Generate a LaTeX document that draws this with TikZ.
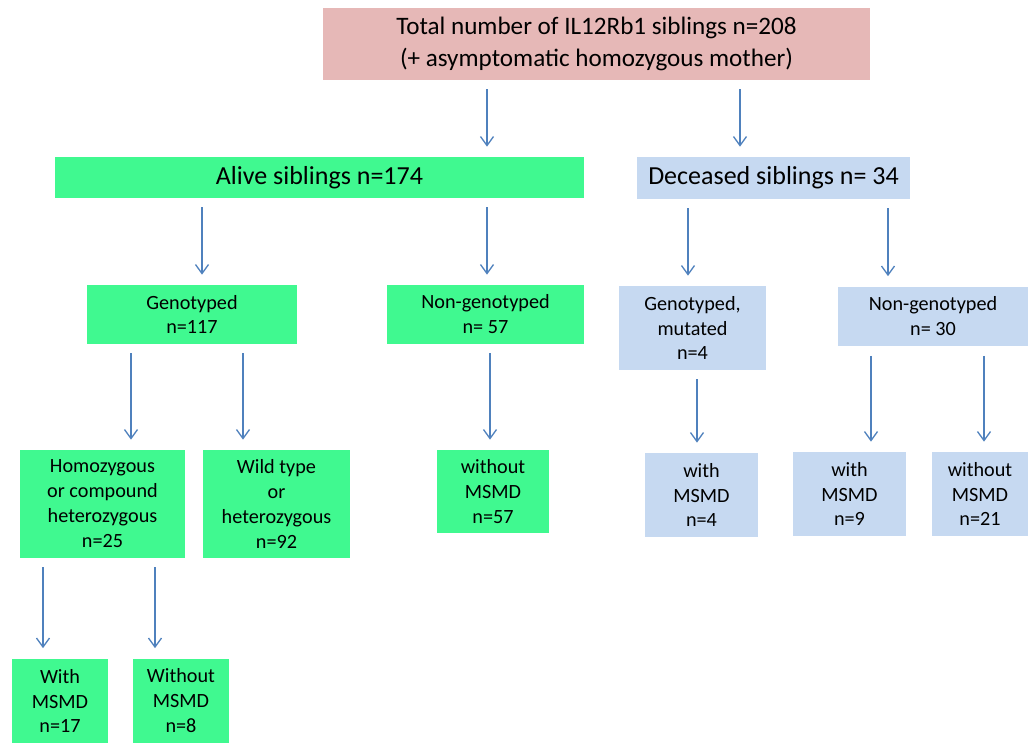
\documentclass[tikz,border=0pt]{standalone}
\usepackage{fontspec}
\setmainfont{Carlito}
\usepackage{xcolor}
\usepackage{tikz}
\usetikzlibrary{positioning,calc,arrows.meta}

\definecolor{boxgreen}{RGB}{64,249,144}
\definecolor{boxpink}{RGB}{230,184,183}
\definecolor{boxblue}{RGB}{198,217,241}
\definecolor{arrowblue}{RGB}{79,129,189}

\begin{document}
\begin{tikzpicture}[
        x=0.02cm, y=-0.02cm,
        % Style for the top box
        totalbox/.style={
            fill=boxpink,
            inner sep=0pt,
            align=center,
            font=\fontsize{14.3}{18.6}\selectfont
        },
        % Style for the big boxes
        bigbox/.style={
            inner sep=0pt,
            align=center,
            font=\fontsize{14.8}{18}\selectfont
        },
        % Style for the small boxes
        smallbox/.style={
            inner sep=0pt,
            align=center,
            font=\fontsize{11.5}{14.2}\selectfont
        },
        alivebox/.style={fill=boxgreen},
        deadbox/.style={fill=boxblue},
        % Style for the arrows
        arr/.style={
            draw=arrowblue,
            line width=0.75pt,
            shorten <=0.18cm,
            shorten >=0.2cm,
            -{Straight Barb[length=1.8mm,width=2.6mm]}
        }
    ]

        \useasboundingbox (0,0) rectangle (1028,743);

        % --- NODES ---
        % Top
        \node[totalbox, minimum width=10.94cm, minimum height=1.44cm] (total) at (596.5,44)
            {Total number of IL12Rb1 siblings n=208\\(+ asymptomatic homozygous mother)};

        % Alive / deceased
        \node[bigbox, alivebox, minimum width=10.58cm, minimum height=0.82cm] (alive) at (319.5,177.5)
            {Alive siblings n=174};
        \node[bigbox, deadbox, minimum width=5.46cm, minimum height=0.84cm] (dead) at (773.5,178)
            {Deceased siblings n= 34};

        % Second level
        \node[smallbox, alivebox, minimum width=4.2cm, minimum height=1.18cm] (gen) at (192,314.5)
            {Genotyped\\n=117};
        \node[smallbox, alivebox, minimum width=3.94cm, minimum height=1.18cm] (nongen) at (485.5,314.5)
            {Non-genotyped\\n= 57};
        \node[smallbox, deadbox, minimum width=2.96cm, minimum height=1.68cm] (genmut) at (692.5,328)
            {Genotyped,\\mutated\\n=4};
        \node[smallbox, deadbox, minimum width=3.8cm, minimum height=1.2cm] (deadnongen) at (933,316.5)
            {Non-genotyped\\n= 30};

        % Third level
        \node[smallbox, alivebox, minimum width=3.3cm, minimum height=2.16cm] (homo) at (102.5,504)
            {Homozygous\\or compound\\heterozygous\\n=25};
        \node[smallbox, alivebox, minimum width=2.94cm, minimum height=2.16cm] (wild) at (276.5,504)
            {Wild type\\or\\heterozygous\\n=92};
        \node[smallbox, alivebox, minimum width=2.24cm, minimum height=1.66cm] (nomsmd) at (493,491.5)
            {without\\MSMD\\n=57};
        \node[smallbox, deadbox, minimum width=2.26cm, minimum height=1.68cm] (mutmsmd) at (701.5,495)
            {with\\MSMD\\n=4};
        \node[smallbox, deadbox, minimum width=2.26cm, minimum height=1.68cm] (deadmsmd) at (849.5,494)
            {with\\MSMD\\n=9};
        \node[smallbox, deadbox, minimum width=1.94cm, minimum height=1.68cm] (deadnomsmd) at (980,494)
            {without\\MSMD\\n=21};

        % Bottom
        \node[smallbox, alivebox, minimum width=1.92cm, minimum height=1.7cm] (homomsmd) at (60,701)
            {With\\MSMD\\n=17};
        \node[smallbox, alivebox, minimum width=1.92cm, minimum height=1.7cm] (homonomsmd) at (181,701)
            {Without\\MSMD\\n=8};

        % --- ARROWS ---
        \draw[arr] (total.south -| 487,0) -- (alive.north -| 487,0);
        \draw[arr] (total.south -| 740,0) -- (dead.north -| 740,0);

        \draw[arr] (alive.south -| 202,0) -- (gen.north -| 202,0);
        \draw[arr] (alive.south -| 487,0) -- (nongen.north -| 487,0);
        \draw[arr] (dead.south -| 688,0) -- (genmut.north -| 688,0);
        \draw[arr] (dead.south -| 888,0) -- (deadnongen.north -| 888,0);

        \draw[arr] (gen.south -| 131,0) -- (homo.north -| 131,0);
        \draw[arr] (gen.south -| 243,0) -- (wild.north -| 243,0);
        \draw[arr] (nongen.south -| 490,0) -- (nomsmd.north -| 490,0);
        \draw[arr] (genmut.south -| 697,0) -- (mutmsmd.north -| 697,0);
        \draw[arr] (deadnongen.south -| 871,0) -- (deadmsmd.north -| 871,0);
        \draw[arr] (deadnongen.south -| 984,0) -- (deadnomsmd.north -| 984,0);

        \draw[arr] (homo.south -| 43,0) -- (homomsmd.north -| 43,0);
        \draw[arr] (homo.south -| 155,0) -- (homonomsmd.north -| 155,0);

    \end{tikzpicture}
\end{document}
